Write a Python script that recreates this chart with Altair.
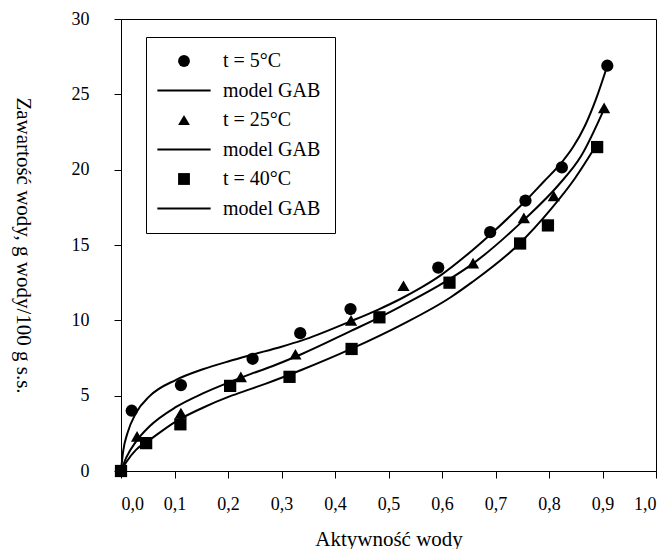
import altair as alt
import pandas as pd

# measured points (water activity, water content g/100 g s.s.)
aw_5 = [0.0, 0.020, 0.112, 0.246, 0.335, 0.429, 0.593, 0.690, 0.756, 0.824, 0.909]
w_5 = [0.0, 4.0, 5.7, 7.45, 9.15, 10.75, 13.5, 15.85, 17.95, 20.15, 26.9]

aw_25 = [0.0, 0.030, 0.112, 0.224, 0.326, 0.430, 0.528, 0.658, 0.753, 0.809, 0.903]
w_25 = [0.0, 2.3, 3.85, 6.25, 7.75, 10.0, 12.3, 13.8, 16.8, 18.25, 24.1]

aw_40 = [0.0, 0.047, 0.111, 0.204, 0.315, 0.431, 0.483, 0.614, 0.746, 0.798, 0.890]
w_40 = [0.0, 1.85, 3.1, 5.65, 6.25, 8.1, 10.2, 12.5, 15.1, 16.3, 21.5]

# GAB model curves
gab5_aw = [0.0, 0.004, 0.012, 0.028, 0.053, 0.103, 0.153, 0.203, 0.243, 0.300, 0.337, 0.430, 0.480, 0.524,
           0.560, 0.598, 0.645, 0.692, 0.754, 0.790, 0.823, 0.845, 0.867, 0.888, 0.909]
gab5_w = [0.0, 1.3, 2.5, 3.85, 4.95, 6.05, 6.75, 7.3, 7.7, 8.25, 8.65, 9.95, 10.7, 11.45,
          12.15, 13.0, 14.3, 15.75, 17.85, 19.2, 20.45, 21.5, 22.9, 24.7, 26.9]

gab25_aw = [0.0, 0.010, 0.028, 0.053, 0.103, 0.153, 0.203, 0.243, 0.271, 0.337, 0.430, 0.483, 0.524,
            0.617, 0.661, 0.754, 0.817, 0.860, 0.904]
gab25_w = [0.0, 0.9, 1.95, 2.95, 4.25, 5.15, 5.9, 6.45, 6.8, 7.75, 9.3, 10.2, 10.95,
           12.8, 13.85, 16.7, 18.95, 20.9, 24.1]

gab40_aw = [0.0, 0.010, 0.028, 0.053, 0.103, 0.153, 0.203, 0.243, 0.271, 0.337, 0.430, 0.524, 0.617,
            0.655, 0.742, 0.804, 0.848, 0.888]
gab40_w = [0.0, 0.6, 1.4, 2.05, 3.3, 4.2, 4.95, 5.45, 5.8, 6.7, 8.1, 9.7, 11.55,
           12.5, 15.0, 17.4, 19.4, 21.6]

series_names = ["t = 5°C", "t = 25°C", "t = 40°C"]
legend_domain = ["t = 5°C", "model GAB (5)", "t = 25°C", "model GAB (25)", "t = 40°C", "model GAB (40)"]
x_ticks = [0.0, 0.1, 0.2, 0.3, 0.4, 0.5, 0.6, 0.7, 0.8, 0.9, 1.0]
y_ticks = [0, 5, 10, 15, 20, 25, 30]

points = pd.concat([
    pd.DataFrame({"aw": aw_5, "w": w_5, "series": series_names[0]}),
    pd.DataFrame({"aw": aw_25, "w": w_25, "series": series_names[1]}),
    pd.DataFrame({"aw": aw_40, "w": w_40, "series": series_names[2]}),
])
curves = pd.concat([
    pd.DataFrame({"aw": gab5_aw, "w": gab5_w, "curve": "5"}),
    pd.DataFrame({"aw": gab25_aw, "w": gab25_w, "curve": "25"}),
    pd.DataFrame({"aw": gab40_aw, "w": gab40_w, "curve": "40"}),
])

LINE = "M-4.5,-0.15L4.5,-0.15L4.5,0.15L-4.5,0.15Z"
shape_range = ["circle", LINE, "triangle-up", LINE, "square", LINE]

FONT = "Liberation Serif"

x_enc = alt.X(
    "aw:Q",
    scale=alt.Scale(domain=[0, 1], nice=False),
    axis=alt.Axis(
        title="Aktywność wody",
        values=x_ticks,
        labelExpr="replace(format(datum.value, '.1f'), '.', ',')",
        labelPadding=17,
        titlePadding=15,
    ),
)
y_enc = alt.Y(
    "w:Q",
    scale=alt.Scale(domain=[0, 30], nice=False),
    axis=alt.Axis(
        title="Zawartość wody, g wody/100 g s.s.",
        values=y_ticks,
        labelPadding=25,
        titlePadding=38,
        titleAngle=90,
        titleBaseline="top",
    ),
)

lines = alt.Chart(curves).mark_line(
    color="black", strokeWidth=2, interpolate="monotone", clip=False
).encode(x=x_enc, y=y_enc, detail="curve:N")

pts = alt.Chart(points).mark_point(
    filled=True, color="black", size=150, opacity=1, clip=False
).encode(
    x=x_enc,
    y=y_enc,
    shape=alt.Shape(
        "series:N",
        scale=alt.Scale(domain=legend_domain, range=shape_range),
        legend=alt.Legend(
            title=None,
            orient="none",
            legendX=25,
            legendY=18,
            labelExpr="indexof(datum.label, 'model') == 0 ? 'model GAB' : datum.label",
            labelFont=FONT,
            labelFontSize=20,
            labelColor="black",
            labelOffset=29,
            symbolOffset=14,
            symbolSize=140,
            symbolFillColor="black",
            symbolStrokeColor="black",
            symbolStrokeWidth=0,
            symbolOpacity=1,
            rowPadding=9.5,
            padding=14,
            strokeColor="black",
            fillColor="white",
        ),
    ),
)

chart = (
    alt.layer(lines, pts)
    .properties(
        width=535,
        height=452,
        padding={"left": 4, "top": 2, "right": 0, "bottom": 0},
        background="white",
    )
    .configure_view(stroke="black", strokeWidth=1)
    .configure_axis(
        grid=False,
        domainColor="black",
        tickColor="black",
        labelColor="black",
        titleColor="black",
        labelFont=FONT,
        titleFont=FONT,
        labelFontSize=18,
        titleFontSize=21,
        titleFontWeight="normal",
        tickSize=7,
    )
)

chart.save("out.html", embed_options={"renderer": "svg", "actions": False})
